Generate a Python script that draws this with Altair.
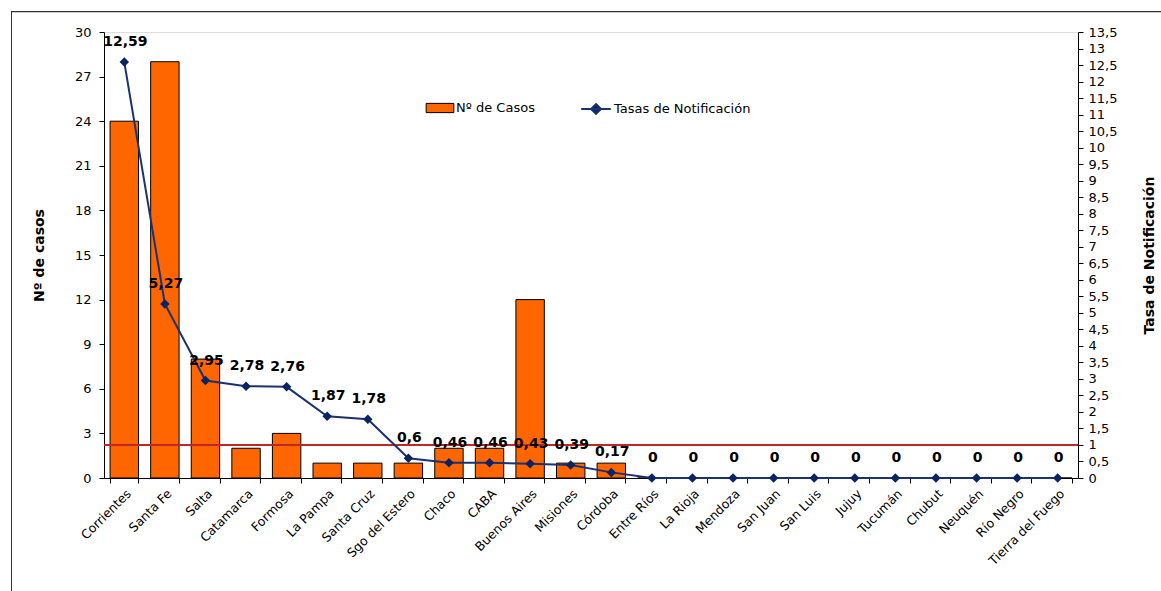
import altair as alt
import pandas as pd

provincias = ["Corrientes", "Santa Fe", "Salta", "Catamarca", "Formosa", "La Pampa",
              "Santa Cruz", "Sgo del Estero", "Chaco", "CABA", "Buenos Aires", "Misiones",
              "Córdoba", "Entre Ríos", "La Rioja", "Mendoza", "San Juan", "San Luis",
              "Jujuy", "Tucumán", "Chubut", "Neuquén", "Río Negro", "Tierra del Fuego"]
casos = [24, 28, 8, 2, 3, 1, 1, 1, 2, 2, 12, 1, 1, 0, 0, 0, 0, 0, 0, 0, 0, 0, 0, 0]
tasas = [12.59, 5.27, 2.95, 2.78, 2.76, 1.87, 1.78, 0.6, 0.46, 0.46, 0.43, 0.39, 0.17,
         0, 0, 0, 0, 0, 0, 0, 0, 0, 0, 0]
umbral = 1
casos_ticks = list(range(0, 31, 3))
tasas_ticks = [i * 0.5 for i in range(0, 28)]

df = pd.DataFrame({
    "prov": provincias,
    "casos": casos,
    "tasa": tasas,
    "etiqueta": [f"{v:g}".replace(".", ",") for v in tasas],
    "s1": "Nº de Casos",
    "s2": "Tasas de Notificación",
})

FONT = "DejaVu Sans"
x = alt.X("prov:N", sort=provincias, title=None,
          scale=alt.Scale(paddingInner=0.3, paddingOuter=0.15),
          axis=alt.Axis(labelAngle=-45, labelAlign="right", labelBaseline="top",
                        labelFontSize=12.5, labelFont=FONT, labelColor="black",
                        tickBand="extent", tickColor="black", domainColor="black",
                        labelPadding=4, tickSize=5))

base = alt.Chart(df)

bars = base.mark_bar(stroke="black", strokeWidth=1).encode(
    x=x,
    y=alt.Y("casos:Q", scale=alt.Scale(domain=[0, 30], nice=False),
            axis=alt.Axis(values=casos_ticks, title="Nº de casos", titleFontSize=14,
                          titleFont=FONT, titleFontWeight="bold", titlePadding=28,
                          labelFontSize=13, labelFont=FONT, labelColor="black",
                          tickColor="black", domainColor="black", grid=False,
                          tickSize=5, labelPadding=8, orient="left")),
    fill=alt.Fill("s1:N", scale=alt.Scale(range=["#FF6600"]),
                  legend=alt.Legend(title=None, orient="none", legendX=326, legendY=66,
                                    symbolType="M-1.5,-0.5H1.5V0.5H-1.5Z",
                                    symbolSize=340, symbolStrokeColor="black",
                                    symbolStrokeWidth=1, labelFontSize=13,
                                    labelFont=FONT, labelOffset=6, labelColor="black")),
)

yr = alt.Scale(domain=[0, 13.5], nice=False)
rate_axis = alt.Axis(values=tasas_ticks, title="Tasa de Notificación", titleFontSize=14,
                     titleFont=FONT, titleFontWeight="bold", titleAngle=270,
                     titlePadding=40, labelFontSize=13, labelFont=FONT,
                     labelColor="black", tickColor="black", domainColor="black",
                     grid=False, tickSize=5, labelPadding=5, orient="right",
                     labelExpr="replace(format(datum.value, '.1~f'), '.', ',')")

rule = base.mark_rule(color="#C0282A", strokeWidth=1).encode(
    y=alt.Y(datum=umbral, scale=yr, axis=rate_axis)
)

line = base.mark_line(color="#1B3272", strokeWidth=2).encode(
    x=x,
    y=alt.Y("tasa:Q", scale=yr, axis=rate_axis),
    stroke=alt.Stroke("s2:N", scale=alt.Scale(range=["#1B3272"]),
                      legend=alt.Legend(title=None, orient="none", legendX=481, legendY=66,
                                        symbolType="M-1.5,0H1.5M0,-0.5L0.5,0L0,0.5L-0.5,0Z",
                                        symbolSize=390, symbolFillColor="#0A2463",
                                        symbolStrokeWidth=2, labelFontSize=13,
                                        labelFont=FONT, labelOffset=7,
                                        labelColor="black")),
)

pts = base.mark_point(shape="diamond", filled=True, size=90, color="#0A2463",
                      opacity=1).encode(
    x=x,
    y=alt.Y("tasa:Q", scale=yr, axis=rate_axis),
)

labels = base.mark_text(dy=-20, dx=1, fontSize=14, fontWeight="bold", font=FONT,
                        color="black").encode(
    x=x,
    y=alt.Y("tasa:Q", scale=yr, axis=rate_axis),
    text="etiqueta:N",
)

one = pd.DataFrame({"k": [0]})
frame_left = alt.Chart(one).mark_rect(color="#333333").encode(
    x=alt.value(-93), x2=alt.value(-92), y=alt.value(-21), y2=alt.value(800))
frame_top = alt.Chart(one).mark_rect(color="#333333").encode(
    x=alt.value(-93), x2=alt.value(1300), y=alt.value(-21), y2=alt.value(-19.8))

rate_layer = alt.layer(rule, line, pts, labels)

chart = alt.layer(frame_left, frame_top, bars, rate_layer).resolve_scale(
    y="independent", fill="independent", stroke="independent"
).properties(
    width=974, height=446,
    padding={"left": 104, "top": 32, "right": 83, "bottom": 113},
    autosize=alt.AutoSizeParams(type="none"),
).configure_view(stroke="black", strokeWidth=1).configure(background="white")

chart.save("out.html", embed_options={"renderer": "svg", "actions": False})
